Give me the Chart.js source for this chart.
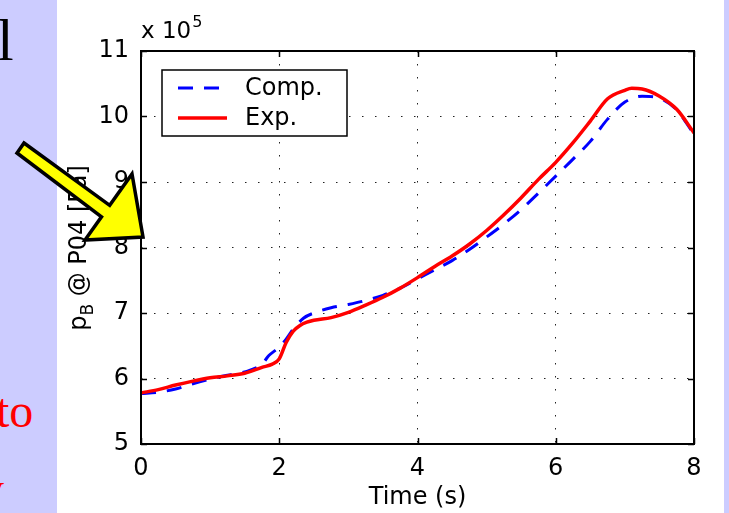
<!DOCTYPE html>
<html>
<head>
<meta charset="utf-8">
<script src="https://cdn.jsdelivr.net/npm/chart.js@4.4.1/dist/chart.umd.min.js"></script>
<style>
    html, body { margin: 0; padding: 0; }
    body { width: 729px; height: 513px; background: #ccccff; position: relative; overflow: hidden; }
    #panel { position: absolute; left: 57px; top: 0; width: 667px; height: 513px; background: #fff; }
    #wrap { position: absolute; left: 0; top: 0; width: 729px; height: 513px; }
    .side { position: absolute; font-family: "Liberation Serif", serif; line-height: 1; white-space: nowrap; }
</style>
</head>
<body>
<div id="panel"></div>
<div class="side" style="left:-3px; top:10px; font-size:60px; color:#000;">l</div>
<div class="side" style="left:-4px; top:387px; font-size:48px; color:#ff0000;">to</div>
<div class="side" style="left:-20px; top:465px; font-size:48px; color:#ff0000;">y</div>
<div id="wrap"><canvas id="pressureChart" width="729" height="513"></canvas></div>
<script>
// values in units of 1e5 Pa
const timeComp = [0, 0.25, 0.5, 0.75, 1, 1.25, 1.5, 1.75, 1.85, 2, 2.1, 2.2, 2.35, 2.5, 2.75, 3, 3.25, 3.5, 3.75,
    4, 4.25, 4.5, 4.75, 5, 5.25, 5.5, 5.75, 6, 6.25, 6.5, 6.75, 7, 7.25, 7.5, 7.75, 8];
const pressComp = [5.77, 5.79, 5.84, 5.92, 5.99, 6.05, 6.10, 6.22, 6.35, 6.48, 6.60, 6.75, 6.92, 7.00, 7.08, 7.13, 7.19, 7.27, 7.38,
    7.52, 7.66, 7.80, 7.97, 8.16, 8.36, 8.58, 8.83, 9.09, 9.35, 9.62, 9.96, 10.22, 10.31, 10.28, 10.10, 9.73];

const timeExp = [0, 0.25, 0.5, 0.75, 1, 1.25, 1.5, 1.75, 1.9, 2, 2.1, 2.2, 2.3, 2.4, 2.5, 2.75, 3, 3.25, 3.5, 3.75,
    4, 4.25, 4.5, 4.75, 5, 5.25, 5.5, 5.75, 6, 6.25, 6.5, 6.75, 7, 7.1, 7.25, 7.5, 7.75, 8];
const pressExp = [5.78, 5.83, 5.90, 5.96, 6.01, 6.04, 6.08, 6.17, 6.22, 6.30, 6.55, 6.72, 6.81, 6.86, 6.89, 6.93, 7.01, 7.12, 7.24, 7.38,
    7.54, 7.71, 7.87, 8.05, 8.26, 8.50, 8.76, 9.04, 9.30, 9.60, 9.93, 10.27, 10.40, 10.43, 10.42, 10.31, 10.11, 9.75];

const seriesNames = ["Comp.", "Exp."];
const xTicks = [0, 2, 4, 6, 8];
const yTicks = [5, 6, 7, 8, 9, 10, 11];

const FONT = '"DejaVu Sans", sans-serif';

function toPoints(xs, ys) {
    return xs.map((x, i) => ({ x, y: ys[i] }));
}

const framePlugin = {
    id: "matlabFrame",
    afterDraw(chart) {
        const { ctx, chartArea, scales } = chart;
        const { left, right, top, bottom } = chartArea;

        ctx.save();
        // inward ticks
        ctx.strokeStyle = "#000";
        ctx.lineWidth = 1.5;
        ctx.beginPath();
        xTicks.forEach(v => {
            const px = Math.round(scales.x.getPixelForValue(v)) + 0.5;
            ctx.moveTo(px, bottom); ctx.lineTo(px, bottom - 6);
            ctx.moveTo(px, top); ctx.lineTo(px, top + 6);
        });
        yTicks.forEach(v => {
            const py = Math.round(scales.y.getPixelForValue(v)) + 0.5;
            ctx.moveTo(left, py); ctx.lineTo(left + 6, py);
            ctx.moveTo(right, py); ctx.lineTo(right - 6, py);
        });
        ctx.stroke();

        // box
        ctx.lineWidth = 2;
        ctx.strokeRect(left, top, right - left, bottom - top);

        // exponent label
        ctx.fillStyle = "#000";
        ctx.textAlign = "left";
        ctx.textBaseline = "alphabetic";
        ctx.font = "23px " + FONT;
        ctx.fillText("x 10", left, 38);
        const expX = left + ctx.measureText("x 10").width + 1;
        ctx.font = "16px " + FONT;
        ctx.fillText("5", expX, 27);

        // y title with subscript
        ctx.save();
        ctx.translate(86, 248);
        ctx.rotate(-Math.PI / 2);
        ctx.font = "24px " + FONT;
        const w1 = ctx.measureText("p").width;
        const rest = " @ P04 [Pa]";
        const w3 = ctx.measureText(rest).width;
        ctx.font = "17px " + FONT;
        const w2 = ctx.measureText("B").width;
        let x0 = -(w1 + w2 + w3) / 2;
        ctx.font = "24px " + FONT;
        ctx.fillText("p", x0, 0);
        ctx.font = "17px " + FONT;
        ctx.fillText("B", x0 + w1, 7);
        ctx.font = "24px " + FONT;
        ctx.fillText(rest, x0 + w1 + w2, 0);
        ctx.restore();

        // legend
        const lx = 162, ly = 70, lw = 185, lh = 66;
        ctx.fillStyle = "#fff";
        ctx.fillRect(lx, ly, lw, lh);
        ctx.strokeStyle = "#000";
        ctx.lineWidth = 1.5;
        ctx.strokeRect(lx, ly, lw, lh);
        chart.data.datasets.forEach((ds, i) => {
            const rowY = ly + 18 + i * 30;
            ctx.strokeStyle = ds.borderColor;
            ctx.lineWidth = ds.borderWidth;
            ctx.setLineDash(ds.borderDash || []);
            ctx.beginPath();
            ctx.moveTo(178, rowY);
            ctx.lineTo(227, rowY);
            ctx.stroke();
            ctx.setLineDash([]);
            ctx.fillStyle = "#000";
            ctx.font = "24px " + FONT;
            ctx.textBaseline = "middle";
            ctx.fillText(ds.label, 245, rowY + 1);
        });

        // yellow arrow from the slide
        const arrow = [[24, 143], [109.7, 205.3], [132, 174], [143, 237], [85, 240], [101.5, 216.8], [17, 153]];
        ctx.beginPath();
        arrow.forEach(([ax, ay], i) => (i ? ctx.lineTo(ax, ay) : ctx.moveTo(ax, ay)));
        ctx.closePath();
        ctx.fillStyle = "#ffff00";
        ctx.fill();
        ctx.strokeStyle = "#000";
        ctx.lineWidth = 3.5;
        ctx.lineJoin = "miter";
        ctx.stroke();

        ctx.restore();
    }
};

const canvas = document.getElementById("pressureChart");

new Chart(canvas.getContext("2d"), {
    type: "line",
    data: {
        datasets: [
            {
                label: seriesNames[0],
                data: toPoints(timeComp, pressComp),
                borderColor: "#0000ff",
                borderWidth: 3,
                borderDash: [15, 11],
                pointRadius: 0,
                fill: false,
                cubicInterpolationMode: "monotone",
                order: 1
            },
            {
                label: seriesNames[1],
                data: toPoints(timeExp, pressExp),
                borderColor: "#ff0000",
                borderWidth: 3.5,
                pointRadius: 0,
                fill: false,
                cubicInterpolationMode: "monotone",
                order: 0
            }
        ]
    },
    options: {
        responsive: false,
        animation: false,
        events: [],
        layout: {
            padding: { left: 0, right: 35, top: 51, bottom: 0 }
        },
        plugins: {
            legend: { display: false },
            tooltip: { enabled: false }
        },
        scales: {
            x: {
                type: "linear",
                min: 0,
                max: 8,
                afterBuildTicks(scale) {
                    scale.ticks = xTicks.map(value => ({ value }));
                },
                afterFit(scale) { scale.height = 69; },
                grid: {
                    color: "#222",
                    lineWidth: 1,
                    drawTicks: false
                },
                border: { display: false, dash: [1.5, 11.5] },
                ticks: {
                    color: "#000",
                    padding: 10,
                    font: { family: FONT, size: 24 },
                    maxRotation: 0
                },
                title: {
                    display: true,
                    text: "Time (s)",
                    color: "#000",
                    font: { family: FONT, size: 24 },
                    padding: { top: 0, bottom: 1 }
                }
            },
            y: {
                type: "linear",
                min: 5,
                max: 11,
                afterBuildTicks(scale) {
                    scale.ticks = yTicks.map(value => ({ value }));
                },
                afterFit(scale) { scale.width = 141; },
                grid: {
                    color: "#222",
                    lineWidth: 1,
                    drawTicks: false
                },
                border: { display: false, dash: [1.5, 11.5] },
                ticks: {
                    color: "#000",
                    padding: 12,
                    font: { family: FONT, size: 24 }
                }
            }
        }
    },
    plugins: [framePlugin]
});
</script>
</body>
</html>
